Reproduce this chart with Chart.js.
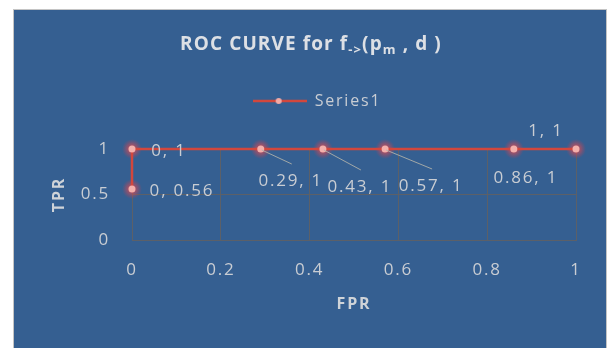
<!DOCTYPE html>
<html>
<head>
<meta charset="utf-8">
<script src="https://cdn.jsdelivr.net/npm/chart.js@4/dist/chart.umd.min.js"></script>
<style>
  html, body { margin: 0; padding: 0; background: #ffffff; }
  canvas { display: block; }
</style>
</head>
<body>
<canvas id="roc" width="608" height="348"></canvas>
<script>
// ROC curve points (false positive rate, true positive rate)
const fprValues = [0, 0, 0.29, 0.43, 0.57, 0.86, 1];
const tprValues = [0.56, 1, 1, 1, 1, 1, 1];
const seriesName = 'Series1';
const xTickValues = [0, 0.2, 0.4, 0.6, 0.8, 1];
const yTickValues = [0, 0.5, 1];

const panelColor = '#355f91';
const textColor = '#c9cdd3';
const gridColor = '#5c6068';
const lineColor = '#d2473d';
const labelFont = '17px "Open Sans"';
const spacing = '1.8px';

// where each value label sits relative to its point: [dx, dy, leader line]
const labelPlacement = [
  [50, 2, false],
  [37, 2, false],
  [30, 32, true],
  [37, 38, true],
  [46, 37, true],
  [12, 29, false],
  [-30, -18, false]
];

const points = fprValues.map((x, i) => ({ x: x, y: tprValues[i] }));

const panelPlugin = {
  id: 'panel',
  afterInit(chart) {
    // leave extra room between the legend row and the plot
    const lg = chart.legend;
    if (lg) {
      const fit = lg.fit.bind(lg);
      lg.fit = function () { fit(); this.height += 30; };
    }
  },
  afterLayout(chart) {
    const lg = chart.legend;
    if (lg) { lg.left += 22; lg.right += 22; }
  },
  beforeUpdate(chart) { chart.ctx.letterSpacing = spacing; },
  beforeDraw(chart) {
    const c = chart.ctx;
    c.save();
    c.fillStyle = '#ffffff';
    c.fillRect(0, 0, chart.width, chart.height);
    c.fillStyle = panelColor;
    c.fillRect(14, 10, 592, 338);
    c.strokeStyle = '#c4c4c4';
    c.lineWidth = 1;
    c.strokeRect(13.5, 9.5, 593, 345);
    c.restore();
    c.letterSpacing = spacing;
  }
};

// chart title with subscripts
const titleParts = [
  ['ROC CURVE for f', false],
  ['->', true],
  ['(p', false],
  ['m', true],
  [' , d )', false]
];
const titlePlugin = {
  id: 'subTitle',
  afterDraw(chart) {
    const c = chart.ctx;
    c.save();
    c.letterSpacing = '1.1px';
    c.fillStyle = '#dde0e5';
    c.textBaseline = 'middle';
    c.textAlign = 'left';
    const big = 'bold 19px "Open Sans"';
    const small = 'bold 13px "Open Sans"';
    let total = 0;
    titleParts.forEach(([t, sub]) => { c.font = sub ? small : big; total += c.measureText(t).width; });
    let x = 311 - total / 2;
    const y = 45;
    titleParts.forEach(([t, sub]) => {
      c.font = sub ? small : big;
      c.fillText(t, x, sub ? y + 5 : y);
      x += c.measureText(t).width;
    });
    c.restore();
  }
};

// soft red halo behind each marker
const glowPlugin = {
  id: 'glow',
  beforeDatasetsDraw(chart) {
    const c = chart.ctx;
    const meta = chart.getDatasetMeta(0);
    c.save();
    meta.data.forEach(pt => {
      const g = c.createRadialGradient(pt.x, pt.y, 1, pt.x, pt.y, 10);
      g.addColorStop(0, 'rgba(235,80,80,0.85)');
      g.addColorStop(0.5, 'rgba(220,70,80,0.45)');
      g.addColorStop(1, 'rgba(200,60,80,0)');
      c.fillStyle = g;
      c.beginPath();
      c.arc(pt.x, pt.y, 10, 0, Math.PI * 2);
      c.fill();
    });
    c.restore();
  }
};

// "x, y" value labels with leader lines
const valueLabelPlugin = {
  id: 'valueLabels',
  afterDatasetsDraw(chart) {
    const c = chart.ctx;
    const meta = chart.getDatasetMeta(0);
    c.save();
    c.font = labelFont;
    c.letterSpacing = spacing;
    c.fillStyle = textColor;
    c.textAlign = 'center';
    c.textBaseline = 'middle';
    meta.data.forEach((pt, i) => {
      const [dx, dy, leader] = labelPlacement[i];
      const lx = pt.x + dx, ly = pt.y + dy;
      if (leader) {
        c.strokeStyle = 'rgba(180,180,170,0.85)';
        c.lineWidth = 1;
        c.beginPath();
        c.moveTo(pt.x + 1, pt.y + 1);
        c.lineTo(lx + 1, ly - 17);
        c.stroke();
      }
      c.fillText(fprValues[i] + ', ' + tprValues[i], lx, ly);
    });
    c.restore();
  }
};

// legend marker: line with a dot in its middle
const legendMarker = document.createElement('canvas');
legendMarker.width = 54;
legendMarker.height = 8;
(function () {
  const m = legendMarker.getContext('2d');
  m.strokeStyle = lineColor;
  m.lineWidth = 2.5;
  m.beginPath(); m.moveTo(0, 4); m.lineTo(54, 4); m.stroke();
  m.fillStyle = '#f2aaa6';
  m.beginPath(); m.arc(26, 4, 3, 0, Math.PI * 2); m.fill();
})();

const tickText = v => String(v);

new Chart(document.getElementById('roc'), {
  type: 'line',
  data: {
    datasets: [{
      label: seriesName,
      data: points,
      borderColor: lineColor,
      borderWidth: 2.5,
      pointRadius: 3.5,
      pointBackgroundColor: '#f4b0ac',
      pointBorderWidth: 0,
      pointHoverRadius: 3.5,
      tension: 0,
      clip: false
    }]
  },
  options: {
    responsive: false,
    animation: false,
    devicePixelRatio: 1,
    layout: { padding: { left: 14, right: 32, top: 55, bottom: 0 } },
    plugins: {
      title: { display: false },
      tooltip: { enabled: false },
      legend: {
        display: true,
        position: 'top',
        labels: {
          usePointStyle: true,
          pointStyleWidth: 54,
          boxHeight: 8,
          padding: 38,
          color: textColor,
          font: { family: 'Open Sans', size: 16 },
          generateLabels: () => [{
            text: seriesName,
            pointStyle: legendMarker,
            fillStyle: lineColor,
            strokeStyle: lineColor,
            lineWidth: 0,
            fontColor: textColor,
            datasetIndex: 0
          }]
        }
      }
    },
    scales: {
      x: {
        type: 'linear',
        position: 'bottom',
        min: 0,
        max: 1,
        afterBuildTicks: s => { s.ticks = xTickValues.map(v => ({ value: v })); },
        afterFit: s => { s.height = 108; },
        grid: { color: gridColor, lineWidth: 1, drawTicks: false },
        border: { color: gridColor, width: 1 },
        ticks: { color: textColor, font: { family: 'Open Sans', size: 17 }, padding: 20, callback: tickText },
        title: {
          display: true,
          text: 'FPR',
          color: '#cfd3d8',
          font: { family: 'Open Sans', size: 16, weight: 'bold' },
          padding: { top: 4, bottom: 34 }
        }
      },
      y: {
        type: 'linear',
        min: 0,
        max: 1,
        afterBuildTicks: s => { s.ticks = yTickValues.map(v => ({ value: v })); },
        afterFit: s => { s.width = 118; },
        grid: { color: gridColor, lineWidth: 1, drawTicks: false },
        border: { color: gridColor, width: 1 },
        ticks: { color: textColor, font: { family: 'Open Sans', size: 17 }, padding: 22, callback: tickText },
        title: {
          display: true,
          text: 'TPR',
          color: '#cfd3d8',
          font: { family: 'Open Sans', size: 16, weight: 'bold' },
          padding: { top: 36, bottom: 0 }
        }
      }
    }
  },
  plugins: [panelPlugin, glowPlugin, valueLabelPlugin, titlePlugin]
});
</script>
</body>
</html>
